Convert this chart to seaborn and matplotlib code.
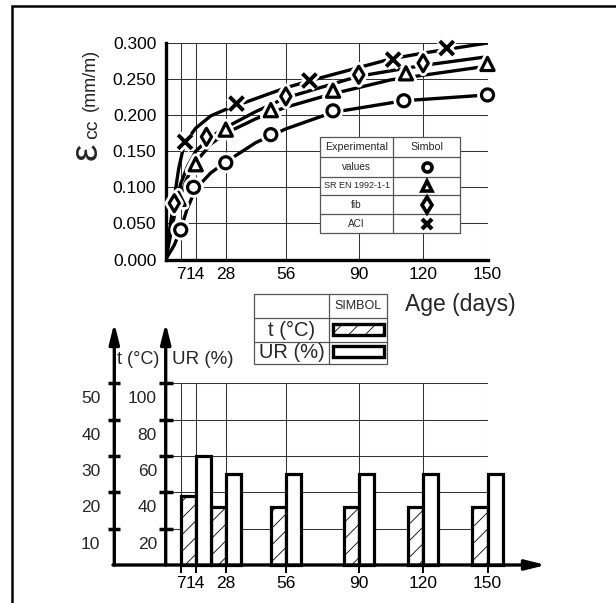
import matplotlib
matplotlib.use("Agg")
import matplotlib.pyplot as plt
import matplotlib.transforms as mtransforms
from matplotlib import patheffects as pe
from matplotlib.patches import Rectangle
import seaborn as sns

# ---------------- creep strain (top chart) ----------------
age_ticks = [7, 14, 28, 56, 90, 120, 150]
strain_ticks = [0.000, 0.050, 0.100, 0.150, 0.200, 0.250, 0.300]

# fitted curves
aci_age = [0, 2, 4, 6, 8, 11, 14, 21, 28, 42, 56, 70, 90, 105, 120, 150]
aci_curve = [0, 0.045, 0.085, 0.125, 0.152, 0.170, 0.182, 0.199, 0.208, 0.223, 0.238, 0.250, 0.266, 0.278, 0.286, 0.300]
fib_age = [0, 2, 4, 7, 10, 14, 21, 28, 42, 56, 90, 120, 150]
fib_curve = [0, 0.038, 0.072, 0.105, 0.128, 0.150, 0.170, 0.183, 0.205, 0.224, 0.254, 0.269, 0.281]
en_age = [0, 2, 4, 7, 10, 14, 21, 28, 42, 56, 77, 105, 150]
en_curve = [0, 0.030, 0.060, 0.090, 0.113, 0.135, 0.160, 0.175, 0.195, 0.211, 0.229, 0.249, 0.268]
exp_age = [0, 4, 7, 10, 14, 21, 28, 42, 56, 78, 111, 150]
exp_curve = [0, 0.020, 0.042, 0.070, 0.098, 0.120, 0.135, 0.162, 0.181, 0.204, 0.220, 0.228]

# measured / predicted points
exp_pt_age = [7, 13, 28, 49, 78, 111, 150]
exp_pt = [0.041, 0.100, 0.134, 0.173, 0.206, 0.220, 0.228]
en_pt_age = [6, 14, 28, 49, 78, 112, 150]
en_pt = [0.084, 0.132, 0.180, 0.207, 0.234, 0.258, 0.271]
fib_pt_age = [4, 19, 56, 90, 120]
fib_pt = [0.078, 0.170, 0.226, 0.256, 0.272]
aci_pt_age = [9, 33, 67, 106, 131]
aci_pt = [0.163, 0.216, 0.248, 0.277, 0.293]

# ---------------- curing environment (bottom chart) ----------------
env_ticks = [7, 14, 28, 56, 90, 120, 150]
t_from = [7, 21, 49, 83, 113, 143]
t_values = [19, 16, 16, 16, 16, 16]
ur_from = [14, 28, 56, 90, 120, 150]
ur_values = [60, 50, 50, 50, 50, 50]
t_ticks = [10, 20, 30, 40, 50]
ur_ticks = [20, 40, 60, 80, 100]

sns.set_style("white")
plt.rcParams["font.family"] = ["Liberation Sans", "DejaVu Sans"]
plt.rcParams["hatch.linewidth"] = 0.6
plt.rcParams["xtick.color"] = "black"
plt.rcParams["ytick.color"] = "black"
plt.rcParams["axes.edgecolor"] = "black"

W, H = 616, 603
fig = plt.figure(figsize=(W / 100, H / 100), dpi=100)


def box(l, t, r, b):
    return [l / W, 1 - b / H, (r - l) / W, (b - t) / H]


X0, X1 = 165.7, 487.5
GRID = dict(color="#333333", lw=0.75)
AXLW = 2.4

# ---------------- top chart ----------------
ax1 = fig.add_axes(box(X0, 43, X1, 259.5))
ax1.set_xlim(0, 150)
ax1.set_ylim(0, 0.3)
ax1.set_xticks(age_ticks)
ax1.set_xticklabels([str(a) for a in age_ticks])
ax1.set_yticks(strain_ticks)
ax1.set_yticklabels([f"{v:.3f}" for v in strain_ticks])
ax1.grid(True, **GRID)
ax1.set_axisbelow(True)
for s in ["top", "right"]:
    ax1.spines[s].set_visible(False)
for s in ["left", "bottom"]:
    ax1.spines[s].set_linewidth(AXLW)
ax1.tick_params(axis="y", direction="inout", length=10.5, width=2.4, labelsize=12.5, pad=1.5)
ax1.tick_params(axis="x", direction="inout", length=10, width=2.4, labelsize=12.5, pad=0.5)

for xs, ys in [(aci_age, aci_curve), (fib_age, fib_curve), (en_age, en_curve), (exp_age, exp_curve)]:
    sns.lineplot(x=xs, y=ys, ax=ax1, color="black", lw=2.4, sort=False,
                 estimator=None, legend=False, zorder=3)


def draw_points(ax, xs, ys, marker, size, lw, face="white"):
    sns.scatterplot(x=xs, y=ys, ax=ax, marker=marker, s=size, facecolor=face,
                    edgecolor="black", linewidth=lw, zorder=5, clip_on=False, legend=False)
    ax.collections[-1].set_path_effects([pe.withStroke(linewidth=lw + 4, foreground="white")])


draw_points(ax1, exp_pt_age, exp_pt, "o", 75, 2.3)
draw_points(ax1, en_pt_age, en_pt, "^", 90, 2.3)
draw_points(ax1, fib_pt_age, fib_pt, "d", 75, 2.3)
draw_points(ax1, aci_pt_age, aci_pt, "x", 100, 2.8, face="black")

# ---------------- bottom chart ----------------
B_TOP, B_BOT = 383.3, 565
ax2 = fig.add_axes(box(X0, B_TOP, X1, B_BOT))
ax2.set_xlim(0, 150)
ax2.set_ylim(0, 50)
axr = ax2.twinx()
axr.set_ylim(0, 100)

for a in (ax2, axr):
    for s in a.spines.values():
        s.set_visible(False)

ax2.spines["left"].set_position(("outward", (X0 - 114.3) * 0.72))
ax2.set_yticks(t_ticks)
ax2.set_xticks(env_ticks)
ax2.set_xticklabels([str(d) for d in env_ticks])
ax2.grid(True, **GRID)
ax2.set_axisbelow(True)
ax2.tick_params(axis="y", left=True, direction="inout", length=8.5, width=2.5, labelleft=False)
ax2.tick_params(axis="x", bottom=True, direction="out", length=6, width=1.4, labelsize=12.5, pad=2)

axr.yaxis.tick_left()
axr.set_yticks(ur_ticks)
axr.tick_params(axis="y", left=True, right=False, direction="inout", length=9.5, width=2.5,
                labelleft=False, labelright=False)

ax2.bar(t_from, t_values, width=7, align="edge", facecolor="white", edgecolor="black",
        lw=2.3, hatch="//", zorder=3, clip_on=False)
axr.bar(ur_from, ur_values, width=7, align="edge", facecolor="white", edgecolor="black",
        lw=2.3, zorder=3, clip_on=False)

# tick labels sit between the tick marks
t_tr = mtransforms.offset_copy(
    mtransforms.blended_transform_factory(fig.transFigure, ax2.transData), fig=fig, y=-15.5, units="dots")
for v in t_ticks:
    fig.text(100.5 / W, v, str(v), transform=t_tr, ha="right", va="center", fontsize=12.5)
ur_tr = mtransforms.offset_copy(
    mtransforms.blended_transform_factory(fig.transFigure, axr.transData), fig=fig, y=-15.5, units="dots")
for v in ur_ticks:
    fig.text(157 / W, v, str(v), transform=ur_tr, ha="right", va="center", fontsize=12.5)

# ---------------- overlay: frame, labels, arrows, tables ----------------
ov = fig.add_axes([0, 0, 1, 1])
ov.set_xlim(0, W)
ov.set_ylim(H, 0)
ov.axis("off")
ov.patch.set_visible(False)

ov.plot([12, 12, W + 5], [H + 5, 6, 6], color="black", lw=1.8, solid_joinstyle="miter")

# strain axis title
ov.text(87, 151, "ε", rotation=90, ha="center", va="center", fontsize=28)
ov.text(93, 129, "cc", rotation=90, ha="center", va="center", fontsize=14)
ov.text(90, 80, "(mm/m)", rotation=90, ha="center", va="center", fontsize=13)
ov.text(405, 304, "Age (days)", ha="left", va="center", fontsize=16.5)

# axes of the environment chart
arrow = dict(arrowstyle="-|>,head_length=1.2,head_width=0.3", color="black", lw=2.4,
             shrinkA=0, shrinkB=0, mutation_scale=10)
ov.annotate("", xy=(114.3, 323), xytext=(114.3, B_BOT), arrowprops=arrow)
ov.annotate("", xy=(X0, 323), xytext=(X0, B_BOT), arrowprops=arrow)
ov.annotate("", xy=(546, B_BOT), xytext=(113, B_BOT), arrowprops=arrow)
ov.text(117, 360, "t (°C)", ha="left", va="center", fontsize=13)
ov.text(172, 360, "UR (%)", ha="left", va="center", fontsize=13.5)

TL = dict(color="#555555", lw=0.9)

# symbol table inside the strain chart
tx0, tx1, tx2 = 320, 393.3, 460
rows = [137.3, 156.7, 176.7, 195.3, 214.3, 233.3]
ov.add_patch(Rectangle((tx0, rows[0]), tx2 - tx0, rows[-1] - rows[0], facecolor="white",
                       edgecolor="#555555", lw=0.9, zorder=6))
for y in rows[1:-1]:
    ov.plot([tx0, tx2], [y, y], zorder=7, **TL)
ov.plot([tx1, tx1], [rows[0], rows[-1]], zorder=7, **TL)
left_txt = ["Experimental", "values", "SR EN 1992-1-1", "fib", "ACI"]
left_size = [7.7, 7.2, 6.5, 7.2, 7.2]
for i, (s, fs) in enumerate(zip(left_txt, left_size)):
    yc = (rows[i] + rows[i + 1]) / 2
    ov.text((tx0 + tx1) / 2, yc, s, ha="center", va="center", fontsize=fs, zorder=8)
ov.text((tx1 + tx2) / 2, (rows[0] + rows[1]) / 2, "Simbol", ha="center", va="center",
        fontsize=7.7, zorder=8)
sym = [("o", 6.5, 2.6), ("^", 7, 2.6), ("d", 8, 2.6), ("x", 7, 3.0)]
for i, (m, ms, mw) in enumerate(sym):
    yc = (rows[i + 1] + rows[i + 2]) / 2
    ov.plot([(tx1 + tx2) / 2], [yc], marker=m, ms=ms, mew=mw, mfc="white", mec="black",
            ls="none", zorder=8)

# SIMBOL table for the environment chart
lx0, lx1, lx2 = 254.3, 329.3, 387.3
lrows = [294, 318.3, 341.7, 364]
ov.add_patch(Rectangle((lx0, lrows[0]), lx2 - lx0, lrows[-1] - lrows[0], facecolor="white",
                       edgecolor="#555555", lw=0.9, zorder=6))
for y in lrows[1:-1]:
    ov.plot([lx0, lx2], [y, y], zorder=7, **TL)
ov.plot([lx1, lx1], [lrows[0], lrows[-1]], zorder=7, **TL)
ov.text((lx1 + lx2) / 2, (lrows[0] + lrows[1]) / 2, "SIMBOL", ha="center", va="center",
        fontsize=9, zorder=8)
ov.text((lx0 + lx1) / 2, (lrows[1] + lrows[2]) / 2, "t (°C)", ha="center", va="center",
        fontsize=14.5, zorder=8)
ov.text((lx0 + lx1) / 2, (lrows[2] + lrows[3]) / 2, "UR (%)", ha="center", va="center",
        fontsize=14.5, zorder=8)
ov.add_patch(Rectangle((332.5, 323.5), 51, 11.5, facecolor="white", edgecolor="black",
                       lw=2.4, hatch="//", zorder=8))
ov.add_patch(Rectangle((332.5, 346), 51, 11, facecolor="white", edgecolor="black",
                       lw=2.4, zorder=8))

fig.savefig("out.png", dpi=100)
